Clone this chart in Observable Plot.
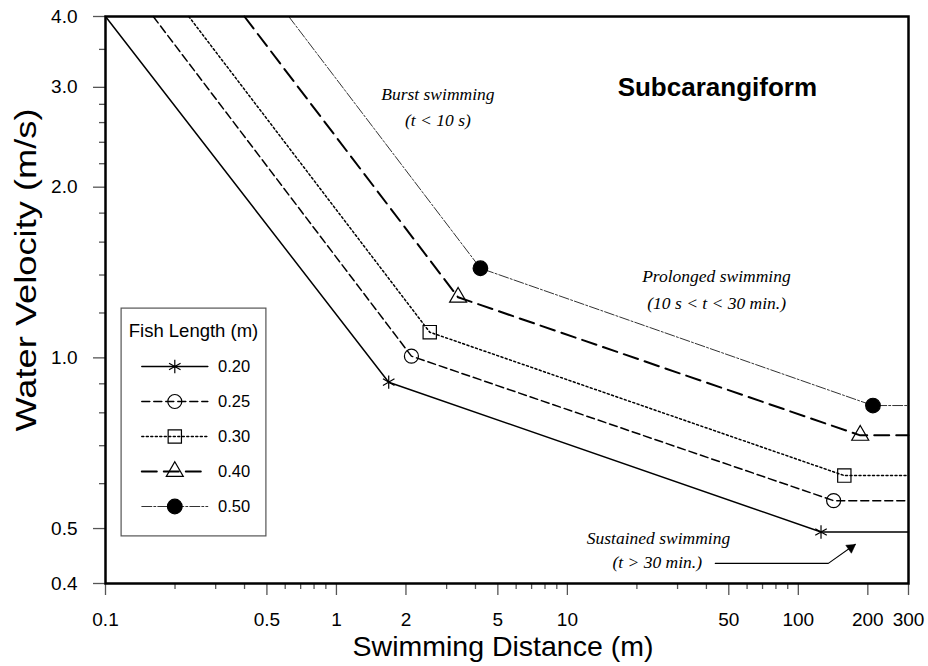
<!DOCTYPE html>
<html><head><meta charset="utf-8">
<script src="https://cdn.jsdelivr.net/npm/d3@7"></script>
<script src="https://cdn.jsdelivr.net/npm/@observablehq/plot@0.6"></script>
<style>
body{margin:0;background:#fff;}
#wrap{position:relative;width:928px;height:666px;font-family:"Liberation Sans",Arial,sans-serif;}
#legend{position:absolute;left:120px;top:307px;}
g[aria-label="x-axis tick"], g[aria-label="y-axis tick"]{stroke:#555;stroke-width:1.3px;}
</style></head><body><div id="wrap"></div>
<script>
// ---- data ----
const fishLengths = ["0.20", "0.25", "0.30", "0.40", "0.50"];
const topVelocity = 4.0;
const startDistance = [0.1, 0.161, 0.2294, 0.3996, 0.6215];
const burstEndDistance = [1.684, 2.112, 2.535, 3.364, 4.202];
const burstEndVelocity = [0.906, 1.007, 1.110, 1.279, 1.439];
const prolongedEndDistance = [125.4, 142.2, 158.2, 185.4, 210.5];
const prolongedEndVelocity = [0.493, 0.560, 0.620, 0.730, 0.824];
const maxDistance = 300;

const xMajorTicks = [0.1, 0.5, 1, 2, 5, 10, 50, 100, 200, 300];
const xTickLabels = ["0.1", "0.5", "1", "2", "5", "10", "50", "100", "200", "300"];
const xMinorTicks = [0.2, 0.3, 0.4, 0.6, 0.7, 0.8, 0.9, 3, 4, 6, 7, 8, 9, 20, 30, 40, 60, 70, 80, 90];
const yMajorTicks = [4, 3, 2, 1, 0.5, 0.4];
const yTickLabels = ["4.0", "3.0", "2.0", "1.0", "0.5", "0.4"];
const yMinorTicks = [3.5, 2.8, 2.6, 2.4, 2.2, 1.8, 1.6, 1.4, 1.2, 0.9, 0.8, 0.7, 0.6];

const xTitle = "Swimming Distance (m)";
const yTitle = "Water Velocity (m/s)";
const panelTitle = "Subcarangiform";
const legendTitle = "Fish Length (m)";

// annotation anchors in data units (distance m, velocity m/s)
const noteText = ["Burst swimming", "(t < 10 s)", "Prolonged swimming", "(10 s < t < 30 min.)", "Sustained swimming", "(t > 30 min.)"];
const noteDistance = [2.75, 2.75, 44.2, 44.3, 24.8, 24.5];
const noteVelocity = [2.844, 2.569, 1.360, 1.220, 0.470, 0.4256];
const titleDistance = [44.6];
const titleVelocity = [2.902];
const arrowDistance = [43.7, 134.9, 176.5];
const arrowVelocity = [0.434, 0.434, 0.469];
const arrowHeadDistance = [168.9];
const arrowHeadVelocity = [0.4627];

// ---- styles ----
const seriesStyle = [
  {dash: null, width: 1.5, stroke: "#000", symbol: "asterisk", r: 6.3, fill: "none"},
  {dash: "8,4", width: 1.5, stroke: "#000", symbol: "circle", r: 7, fill: "none"},
  {dash: "2,2.5", width: 1.5, stroke: "#000", symbol: "square", r: 7.5, fill: "none"},
  {dash: "15,7", width: 2, stroke: "#000", symbol: "triangle", r: 6.3, fill: "none"},
  {dash: "10,2,2,2", width: 1, stroke: "#333", symbol: "circle", r: 7.3, fill: "#000"}
];

const series = fishLengths.map((f, i) => ({
  f,
  path: [
    {d: startDistance[i], v: topVelocity},
    {d: burstEndDistance[i], v: burstEndVelocity[i]},
    {d: prolongedEndDistance[i], v: prolongedEndVelocity[i]},
    {d: maxDistance, v: prolongedEndVelocity[i]}
  ],
  markers: [
    {d: burstEndDistance[i], v: burstEndVelocity[i]},
    {d: prolongedEndDistance[i], v: prolongedEndVelocity[i]}
  ]
}));

function lookup(ticks, labels) {
  return d => {
    const i = ticks.findIndex(t => Math.abs(Math.log(t / d)) < 1e-6);
    return i < 0 ? "" : labels[i];
  };
}
const notes = noteText.map((t, i) => ({t, d: noteDistance[i], v: noteVelocity[i]}));
const arrowPts = arrowDistance.map((d, i) => ({d, v: arrowVelocity[i]}));
const xLabelRows = xMajorTicks.map((v, i) => ({v, label: xTickLabels[i]}));

const serif = "'Liberation Serif','Times New Roman',serif";
const sans = "'Liberation Sans',Arial,sans-serif";

const marks = [];
marks.push(
  Plot.axisX({ticks: xMinorTicks, tickSize: 6, tickFormat: () => "", label: null}),
  Plot.axisX({ticks: xMajorTicks, tickSize: 12, tickFormat: () => "", label: null}),
  Plot.text(xLabelRows, {x: "v", frameAnchor: "bottom", dy: 28.5, text: "label", lineAnchor: "top", textAnchor: "middle", fontFamily: sans, fontSize: 19, fill: "#000"}),
  Plot.axisY({ticks: yMinorTicks, tickSize: 6, tickFormat: () => "", label: null}),
  Plot.axisY({ticks: yMajorTicks, tickSize: 12, tickPadding: 16, tickFormat: lookup(yMajorTicks, yTickLabels), label: null})
);
series.forEach((s, i) => {
  const st = seriesStyle[i];
  marks.push(Plot.line(s.path, {x: "d", y: "v", stroke: st.stroke, strokeWidth: st.width, strokeDasharray: st.dash, strokeLinejoin: "miter"}));
});
series.forEach((s, i) => {
  const st = seriesStyle[i];
  marks.push(Plot.dot(s.markers, {x: "d", y: "v", symbol: st.symbol, r: st.r, stroke: "#000", strokeWidth: 1.2, fill: st.fill}));
});
marks.push(
  Plot.text(notes, {x: "d", y: "v", text: "t", lineAnchor: "bottom", textAnchor: "middle", fontFamily: serif, fontStyle: "italic", fontSize: 17.5, fill: "#000"}),
  Plot.text([panelTitle], {x: () => titleDistance[0], y: () => titleVelocity[0], text: d => d, lineAnchor: "bottom", fontFamily: sans, fontWeight: "bold", fontSize: 26, fill: "#000"}),
  Plot.line(arrowPts, {x: "d", y: "v", stroke: "#000", strokeWidth: 1.1}),
  Plot.dot([0], {x: () => arrowHeadDistance[0], y: () => arrowHeadVelocity[0], symbol: "triangle", r: 3.6, fill: "#000", stroke: "#000", strokeWidth: 0.5, rotate: 55}),
  Plot.text([xTitle], {frameAnchor: "bottom", dy: 72, dx: -4, text: d => d, lineAnchor: "bottom", textAnchor: "middle", fontFamily: sans, fontSize: 28.5, fill: "#000"}),
  Plot.text([yTitle], {frameAnchor: "left", dx: -70, dy: -30, rotate: -90, text: d => d, lineAnchor: "bottom", textAnchor: "middle", fontFamily: sans, fontSize: 30, fill: "#000"}),
  Plot.frame({stroke: "#000", strokeWidth: 2.5})
);

const chart = Plot.plot({
  width: 928, height: 666,
  marginLeft: 105, marginRight: 20, marginTop: 16, marginBottom: 83,
  x: {type: "log", domain: [0.1, maxDistance]},
  y: {type: "log", domain: [0.4, topVelocity]},
  style: {fontFamily: sans, fontSize: "19px", color: "#000", background: "#fff", overflow: "visible"},
  marks
});
document.getElementById("wrap").appendChild(chart);
d3.select(chart).selectAll("text").filter(function () { return this.textContent === yTitle; })
  .attr("textLength", 323).attr("lengthAdjust", "spacingAndGlyphs");

// ---- legend ----
const legendMarks = [
  Plot.frame({stroke: "#555", strokeWidth: 1.2, fill: "#fff", inset: 0.6}),
  Plot.text([legendTitle], {frameAnchor: "top", dy: 29.4, text: d => d, lineAnchor: "bottom", textAnchor: "middle", fontFamily: sans, fontSize: 18.5, fill: "#000"})
];
fishLengths.forEach((f, i) => {
  const st = seriesStyle[i];
  legendMarks.push(Plot.line([0, 1], {x: d => d, y: () => f, stroke: st.stroke, strokeWidth: st.width, strokeDasharray: st.dash}));
  legendMarks.push(Plot.dot([0.5], {x: d => d, y: () => f, symbol: st.symbol, r: st.r, stroke: "#000", strokeWidth: 1.2, fill: st.fill}));
});
legendMarks.push(Plot.text(fishLengths, {x: () => 1, y: d => d, text: d => d, dx: 10.3, textAnchor: "start", fontFamily: sans, fontSize: 16.5, fill: "#000"}));
const legend = Plot.plot({
  width: 146, height: 229, margin: 0,
  x: {domain: [0, 1], range: [21.3, 87.3], axis: null},
  y: {type: "point", domain: fishLengths, range: [57.7, 199.4], padding: 0, axis: null},
  style: {fontFamily: sans, background: "transparent", overflow: "visible"},
  marks: legendMarks
});
const ld = document.createElement("div");
ld.id = "legend";
ld.appendChild(legend);
document.getElementById("wrap").appendChild(ld);
</script></body></html>
